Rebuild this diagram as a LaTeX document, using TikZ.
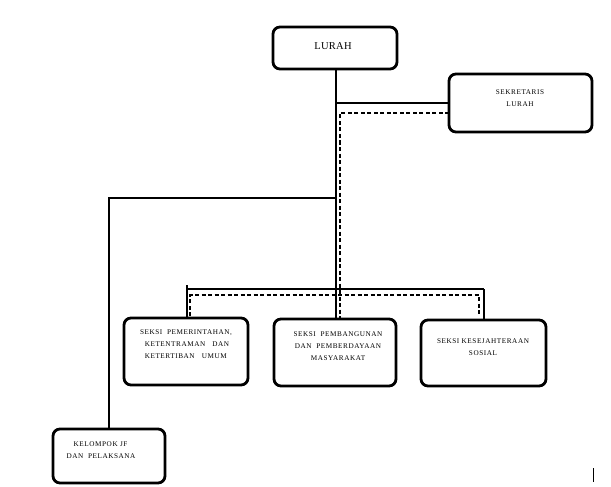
\documentclass[tikz,border=0pt]{standalone}
\usepackage{fontspec}
\setmainfont{Liberation Serif}
\begin{document}
\begin{tikzpicture}[x=1pt,y=-1pt,
  box/.style={draw,line width=2.8pt,rounded corners=7pt,inner sep=0pt},
  conn/.style={line width=2.8pt},
  dconn/.style={line width=1.4pt,dash pattern=on 4pt off 2.5pt},
  lbl/.style={font=\fontsize{7.2}{11.8}\selectfont\addfontfeature{LetterSpace=8},align=center,inner sep=0pt}]
\useasboundingbox (0,0) rectangle (611,487);
% boxes
\draw[box] (273,27) rectangle (397,69); \node (lurah) [font=\fontsize{10.5}{12}\selectfont\addfontfeature{LetterSpace=3},inner sep=0pt] at (333,46) {LURAH};
\draw[box] (449,74) rectangle (592,132); \node[lbl] (sek) at (520,98) {SEKRETARIS\\LURAH};
\draw[box] (124,318) rectangle (248,385); \node[lbl,align=left] (s1) at (186,344) {SEKSI\ \ PEMERINTAHAN,\\\ \ KETENTRAMAN\ \ \ DAN\\\ \ KETERTIBAN\ \ \ UMUM};
\draw[box] (274,319) rectangle (396,386); \node[lbl] (s2) at (338,346) {SEKSI\ \ PEMBANGUNAN\\DAN\ \ PEMBERDAYAAN\\MASYARAKAT};
\draw[box] (421,320) rectangle (546,386); \node[lbl] (s3) at (483,347) {SEKSI KESEJAHTERAAN\\SOSIAL};
\draw[box] (53,429) rectangle (165,483); \node[lbl,align=left] (kel) at (101,450) {\ \ \ KELOMPOK JF\\DAN\ \ PELAKSANA};
% coordinates
\coordinate (t1) at (336,69);
\coordinate (j1) at (336,103);
\coordinate (sekL) at (449,103);
\coordinate (sekL2) at (449,113);
\coordinate (j2) at (340,113);
\coordinate (j3) at (336,198);
\coordinate (k1) at (109,198);
\coordinate (kT) at (109,429);
\coordinate (mT) at (336,319);
\coordinate (dM) at (340,319);
\coordinate (h1) at (187,289);
\coordinate (h2) at (484,289);
\coordinate (h1b) at (187,318);
\coordinate (h2b) at (484,320);
\coordinate (h1t) at (187,285);
\coordinate (d1) at (190,295);
\coordinate (d2) at (479,295);
\coordinate (d1b) at (190,316);
\coordinate (d2b) at (479,316);
% solid connectors
\draw[conn] (t1) -- (mT);
\draw[conn] (j1) -- (sekL);
\draw[conn] (j3) -- (k1) -- (kT);
\draw[conn] (h1t) -- (h1b);
\draw[conn] (h1) -- (h2);
\draw[conn] (h2) -- (h2b);
% dashed
\draw[dconn] (sekL2) -- (j2) -- (dM);
\draw[dconn] (d1b) -- (d1) -- (d2) -- (d2b);
% stray mark
\coordinate (m1) at (593,468);
\coordinate (m2) at (593,482);
\draw[line width=0.8pt] (m1) -- (m2);
\end{tikzpicture}
\end{document}
